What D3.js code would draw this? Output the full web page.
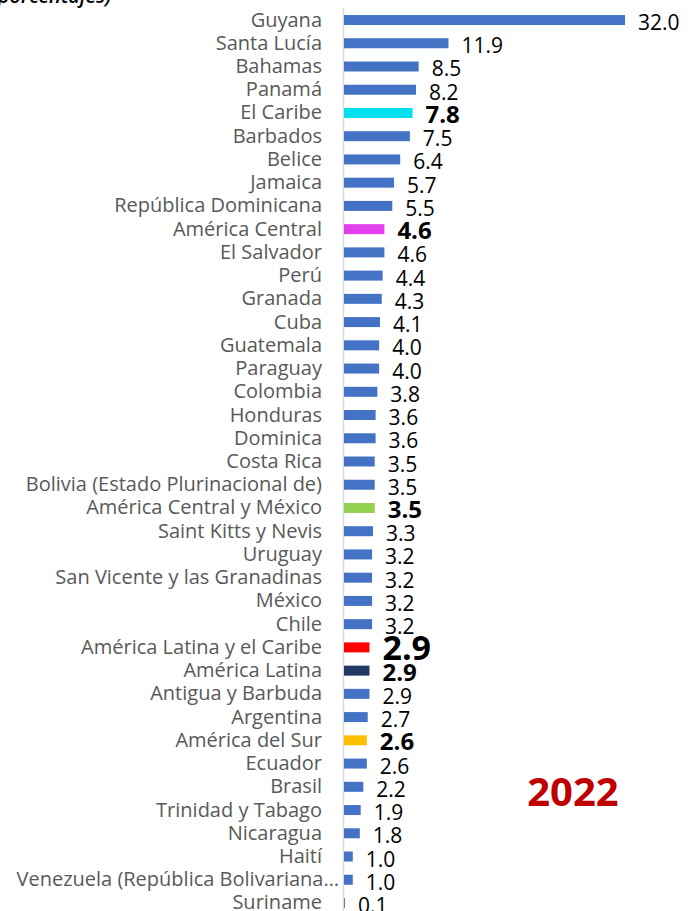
<!DOCTYPE html>
<html>
<head>
<meta charset="utf-8">
<script src="https://cdn.jsdelivr.net/npm/d3@7"></script>
<style>
  body { margin: 0; background: #fff; }
  svg { display: block; font-family: "Open Sans", sans-serif; }
</style>
</head>
<body>
<svg id="chart" width="688" height="911"></svg>
<script>
const countries = [
  "Guyana", "Santa Lucía", "Bahamas", "Panamá", "El Caribe", "Barbados", "Belice",
  "Jamaica", "República Dominicana", "América Central", "El Salvador", "Perú",
  "Granada", "Cuba", "Guatemala", "Paraguay", "Colombia", "Honduras", "Dominica",
  "Costa Rica", "Bolivia (Estado Plurinacional de)", "América Central y México",
  "Saint Kitts y Nevis", "Uruguay", "San Vicente y las Granadinas", "México", "Chile",
  "América Latina y el Caribe", "América Latina", "Antigua y Barbuda", "Argentina",
  "América del Sur", "Ecuador", "Brasil", "Trinidad y Tabago", "Nicaragua", "Haití",
  "Venezuela (República Bolivariana…", "Suriname"
];
const growth = [
  32.0, 11.9, 8.5, 8.2, 7.8, 7.5, 6.4, 5.7, 5.5, 4.6, 4.6, 4.4, 4.3, 4.1, 4.0, 4.0,
  3.8, 3.6, 3.6, 3.5, 3.5, 3.5, 3.3, 3.2, 3.2, 3.2, 3.2, 2.9, 2.9, 2.9, 2.7, 2.6,
  2.6, 2.2, 1.9, 1.8, 1.0, 1.0, 0.1
];
// regional aggregates get their own colour and bold label
const aggregates = ["El Caribe", "América Central", "América Central y México",
  "América Latina y el Caribe", "América Latina", "América del Sur"];
const aggColors = ["#00E1EF", "#E33FEF", "#92D050", "#FF0000", "#1F3864", "#FFC000"];
const yearLabel = "2022";
const subtitle = "(en porcentajes)";

const data = countries.map((c, i) => ({ name: c, value: growth[i] }));

const svg = d3.select("#chart");

const x = d3.scaleLinear().domain([0, 32]).range([344, 625]);
const y = d3.scaleBand()
  .domain(countries)
  .range([8.4, 914.6])
  .paddingInner(0.57)
  .paddingOuter(0.285);

const color = d3.scaleOrdinal().domain(aggregates).range(aggColors).unknown("#4472C4");

// subtitle, cut off at the top edge like in the source
svg.append("text")
  .attr("x", -36)
  .attr("y", 3)
  .attr("font-size", 20)
  .attr("font-style", "italic")
  .attr("font-weight", 600)
  .attr("fill", "#000")
  .text(subtitle);

// vertical axis line
svg.append("line")
  .attr("x1", 343.5).attr("x2", 343.5)
  .attr("y1", 8).attr("y2", 911)
  .attr("stroke", "#d9d9d9")
  .attr("stroke-width", 1.5);

svg.append("g")
  .selectAll("rect")
  .data(data)
  .join("rect")
  .attr("x", x(0))
  .attr("y", (d) => y(d.name))
  .attr("width", (d) => x(d.value) - x(0))
  .attr("height", y.bandwidth())
  .attr("fill", (d) => color(d.name));

// category labels
svg.append("g")
  .selectAll("text")
  .data(data)
  .join("text")
  .attr("x", (d) => (d.name.startsWith("Venezuela") ? 339 : 322))
  .attr("y", (d) => y(d.name) + y.bandwidth() / 2 + 6.5)
  .attr("text-anchor", "end")
  .attr("font-size", 20)
  .attr("fill", "#595959")
  .text((d) => d.name);

// value labels
svg.append("g")
  .selectAll("text")
  .data(data)
  .join("text")
  .attr("x", (d) => x(d.value) + 13)
  .attr("y", (d) => {
    const c = y(d.name) + y.bandwidth() / 2;
    if (d.name === "América Latina y el Caribe") return c + 13;
    return c + 10;
  })
  .attr("font-size", (d) => {
    if (d.name === "América Latina y el Caribe") return 34;
    return aggregates.includes(d.name) ? 24 : 21;
  })
  .attr("font-weight", (d) => (aggregates.includes(d.name) ? 700 : 400))
  .attr("fill", "#000")
  .text((d) => d3.format(".1f")(d.value));

svg.append("text")
  .attr("x", 573)
  .attr("y", 806)
  .attr("text-anchor", "middle")
  .attr("font-size", 40)
  .attr("font-weight", 700)
  .attr("fill", "#C00000")
  .text(yearLabel);
</script>
</body>
</html>
